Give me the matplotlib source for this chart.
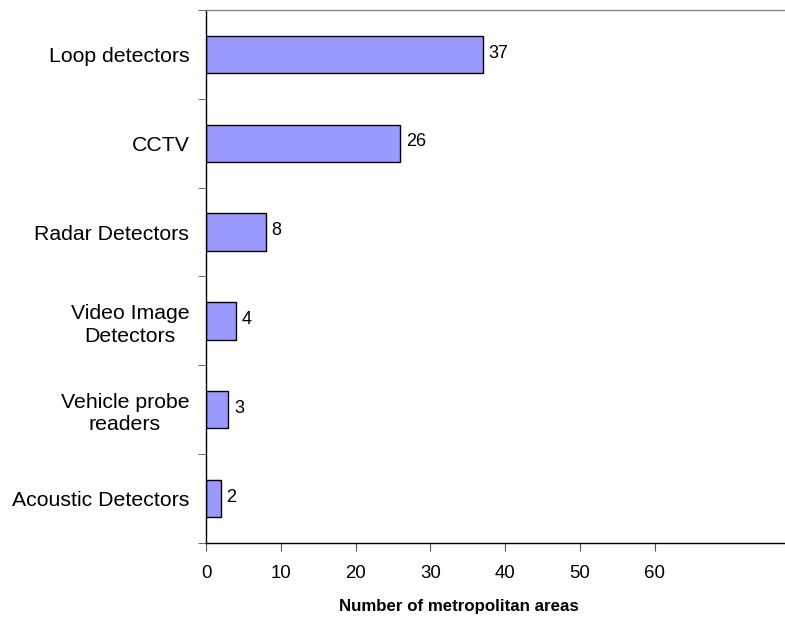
import matplotlib
matplotlib.use("Agg")
import matplotlib.pyplot as plt
import numpy as np

plt.rcParams['font.family'] = ['Liberation Sans', 'DejaVu Sans']

categories = ["Loop detectors", "CCTV", "Radar Detectors", "Video Image\nDetectors",
              "Vehicle probe\nreaders", "Acoustic Detectors"]
values = [37, 26, 8, 4, 3, 2]
xticks = [0, 10, 20, 30, 40, 50, 60]
xlabel = "Number of metropolitan areas"

fig = plt.figure(figsize=(7.85, 6.17), dpi=100)
W, H = 785, 617
left, right, top, bottom = 206, 785, 10, 543
ax = fig.add_axes([left / W, 1 - bottom / H, (right - left) / W, (bottom - top) / H])

n = len(categories)
pos = np.arange(n)
ax.barh(pos, values, height=0.42, color="#9999FF", edgecolor="black", linewidth=1.0)
ax.set_ylim(n - 0.5, -0.5)
ax.set_xlim(0, 77.4)

for p, v in zip(pos, values):
    ax.annotate(str(v), (v, p), xytext=(4, 1), textcoords="offset points",
                va="center", ha="left", fontsize=13)

ax.set_yticks(pos)
ax.set_yticklabels(categories, fontsize=15.3, ha="right", multialignment="center",
                   linespacing=1.25)
ax.tick_params(axis="y", which="major", length=0, pad=12)
ax.set_yticks(np.arange(-0.5, n, 1.0), minor=True)
ax.tick_params(axis="y", which="minor", length=6, direction="out", color="#555555")

ax.set_xticks(xticks)
ax.set_xticklabels([str(t) for t in xticks], fontsize=13.4)
ax.tick_params(axis="x", length=6, direction="out", pad=10, color="#555555")
ax.set_xlabel(xlabel, fontsize=12.2, fontweight="bold")
ax.xaxis.set_label_coords((459 - left) / (right - left), -(607 - bottom) / (bottom - top))
ax.xaxis.label.set_va("center")

ax.spines["right"].set_visible(False)
ax.spines["top"].set_color("#888888")
ax.spines["top"].set_linewidth(1.0)
for s in ["left", "bottom"]:
    ax.spines[s].set_color("black")
    ax.spines[s].set_linewidth(1.0)

fig.savefig("out.png", dpi=100)
